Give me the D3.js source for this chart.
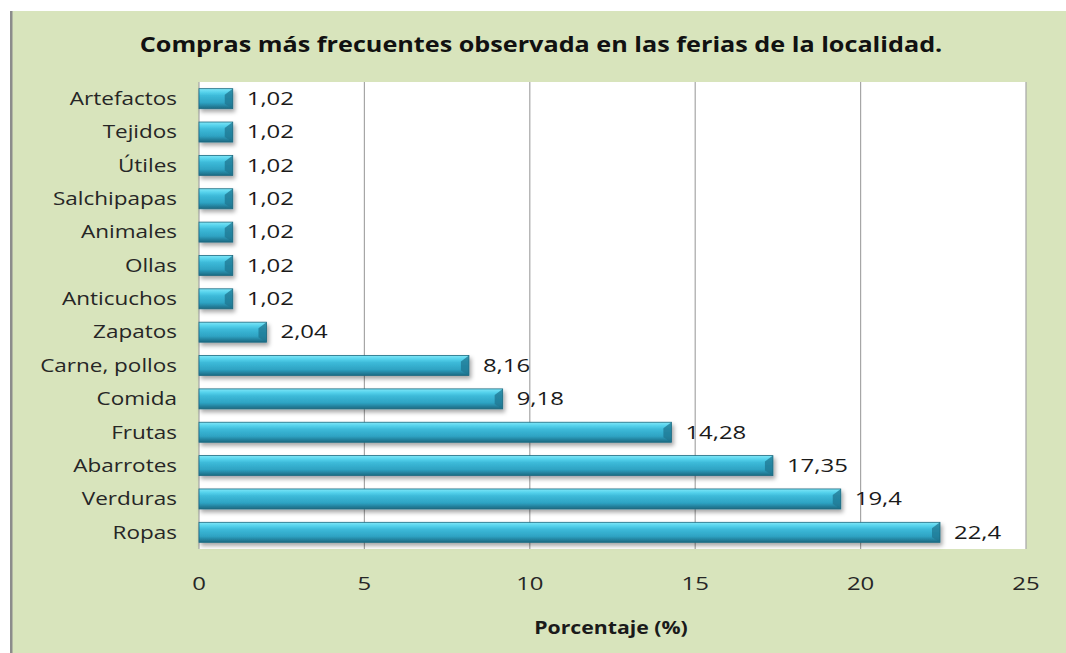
<!DOCTYPE html>
<html><head><meta charset="utf-8">
<script src="https://cdn.jsdelivr.net/npm/d3@7"></script>
<style>html,body{margin:0;padding:0;background:#fff;}svg{display:block;}</style>
</head><body>
<svg id="c" width="1066" height="653"></svg>
<script>
const categories = ["Artefactos","Tejidos","Útiles","Salchipapas","Animales","Ollas","Anticuchos","Zapatos","Carne, pollos","Comida","Frutas","Abarrotes","Verduras","Ropas"];
const values = [1.02,1.02,1.02,1.02,1.02,1.02,1.02,2.04,8.16,9.18,14.28,17.35,19.4,22.4];
const valueLabels = ["1,02","1,02","1,02","1,02","1,02","1,02","1,02","2,04","8,16","9,18","14,28","17,35","19,4","22,4"];
const xTicks = [0,5,10,15,20,25];
const title = "Compras más frecuentes observada en las ferias de la localidad.";
const xTitle = "Porcentaje (%)";

const font = "'Open Sans', sans-serif";
const svg = d3.select("#c");
const defs = svg.append("defs");
const g1 = defs.append("linearGradient").attr("id","barGrad").attr("x1",0).attr("y1",0).attr("x2",0).attr("y2",1);
[[0,"#7fe6f7"],[0.18,"#55d2ec"],[0.35,"#3dbad9"],[0.7,"#2ea3c3"],[0.88,"#237f9b"],[1,"#1c6a82"]].forEach(s=>g1.append("stop").attr("offset",s[0]).attr("stop-color",s[1]));
const flt = defs.append("filter").attr("id","shadow").attr("x","-10%").attr("y","-30%").attr("width","130%").attr("height","190%");
flt.append("feDropShadow").attr("dx",2).attr("dy",3).attr("stdDeviation",2).attr("flood-color","#000").attr("flood-opacity",0.35);

function txt(sel, x, y, s, opts){
  return sel.append("text").attr("transform",`translate(${x},${y}) scale(${opts.sx||1.2},1)`)
    .attr("dy","0.35em").attr("text-anchor",opts.anchor||"start")
    .attr("font-family",font).attr("font-size",opts.size||17)
    .attr("font-weight",opts.weight||"normal").attr("fill",opts.fill||"#262626").text(s);
}

// background
svg.append("rect").attr("x",10).attr("y",11).attr("width",1056).attr("height",642).attr("fill","#d8e4bc");
svg.append("rect").attr("x",10).attr("y",11).attr("width",2.5).attr("height",642).attr("fill","#8c8c8c");

const m = {left:199, right:1026, top:82, bottom:549};
const x = d3.scaleLinear().domain([0,25]).range([m.left,m.right]);
const y = d3.scaleBand().domain(categories).range([m.top,m.bottom]).paddingInner(0.4).paddingOuter(0.2);

svg.append("rect").attr("x",m.left).attr("y",m.top).attr("width",m.right-m.left).attr("height",m.bottom-m.top).attr("fill","#fff");

// gridlines
svg.append("g").selectAll("line").data(xTicks).join("line")
  .attr("x1",d=>x(d)).attr("x2",d=>x(d)).attr("y1",m.top).attr("y2",m.bottom)
  .attr("stroke","#a6a6a6").attr("stroke-width",1.2);

// bars
const bars = svg.append("g");
const labels = svg.append("g");
const bh = y.bandwidth();
categories.forEach((c,i)=>{
  const x0 = x(0), x1 = x(values[i]), yy = y(c);
  const gb = bars.append("g").attr("filter","url(#shadow)");
  gb.append("rect").attr("x",x0).attr("y",yy).attr("width",x1-x0).attr("height",bh).attr("fill","url(#barGrad)");
  const bw = Math.min(8, (x1-x0)/3);
  gb.append("path").attr("d",`M${x1-bw},${yy+bh*0.3} L${x1},${yy} L${x1},${yy+bh} L${x1-bw},${yy+bh*0.75} Z`).attr("fill","#1f7590").attr("opacity",0.75);
  gb.append("rect").attr("x",x0).attr("y",yy).attr("width",x1-x0).attr("height",bh).attr("fill","none").attr("stroke","#1d6a80").attr("stroke-width",0.8);
  txt(labels, x1+14, yy+bh/2, valueLabels[i], {fill:"#1a1a1a", size:18, sx:1.33});
});

// category labels
categories.forEach(c=>txt(labels, 177, y(c)+bh/2, c, {anchor:"end", size:18, sx:1.25}));

// x tick labels
xTicks.forEach(t=>txt(labels, x(t), 584, String(t), {anchor:"middle", size:18, sx:1.33}));

txt(svg, 611, 628, xTitle, {anchor:"middle", size:18, sx:1.18, weight:"bold", fill:"#1a1a1a"});
txt(svg, 541, 45, title, {anchor:"middle", size:21, sx:1.2, weight:"bold", fill:"#111"});
</script>
</body></html>
